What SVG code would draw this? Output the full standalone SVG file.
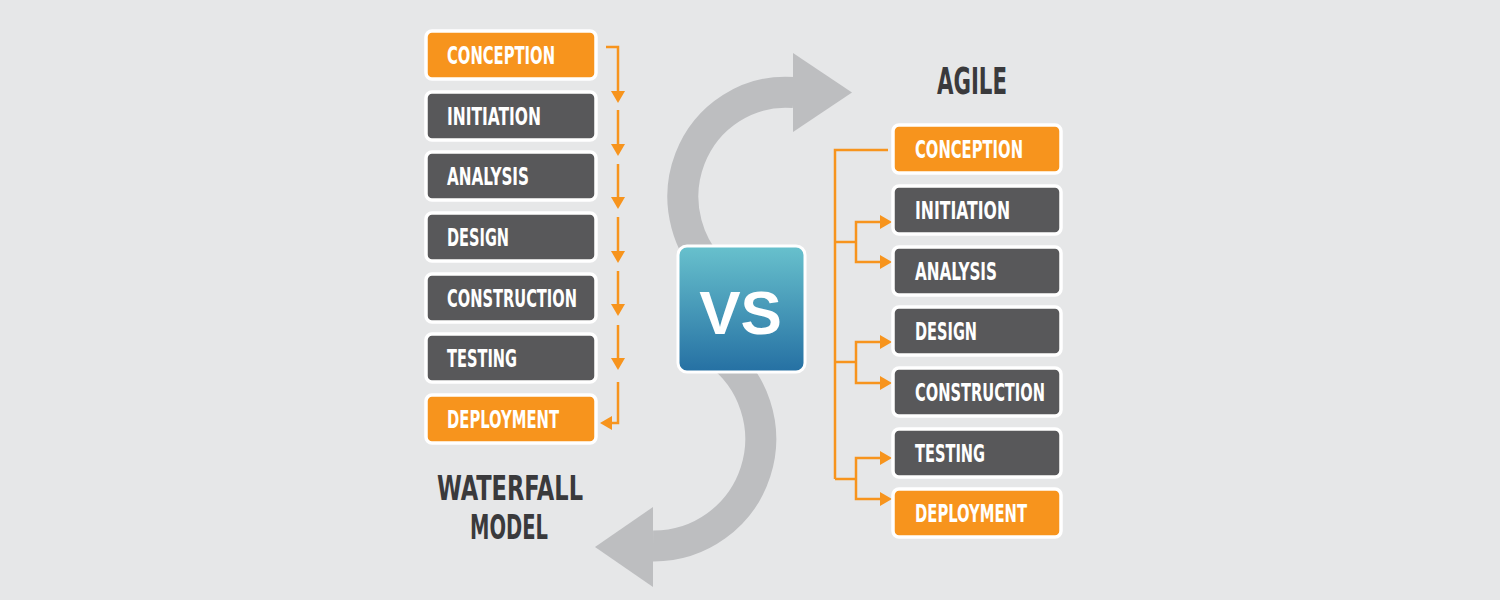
<svg xmlns="http://www.w3.org/2000/svg" width="1500" height="600" viewBox="0 0 1500 600">
  <defs>
    <linearGradient id="vsGrad" x1="0" y1="0" x2="0" y2="1">
      <stop offset="0" stop-color="#68C1CD"/>
      <stop offset="1" stop-color="#2570A3"/>
    </linearGradient>
    <marker id="ah" markerUnits="userSpaceOnUse" markerWidth="12" markerHeight="14" refX="4" refY="7" orient="auto" viewBox="0 0 12 14">
      <path d="M0,0 L12,7 L0,14 Z" fill="#F7941D"/>
    </marker>
  </defs>
  <style>
    .box rect { stroke: #FFFFFF; stroke-width: 3.5; }
    .dark rect { fill: #58585A; }
    .orange rect { fill: #F7941D; }
    .box text { font-family: "Liberation Sans Narrow", "DejaVu Sans Condensed", "Liberation Sans", sans-serif; font-weight: bold; font-size: 24px; fill: #FFFFFF; }
    .title { font-family: "Liberation Sans Narrow", "DejaVu Sans Condensed", "Liberation Sans", sans-serif; font-weight: bold; font-size: 37px; fill: #3A3A3C; }
    .title2 { font-family: "Liberation Sans Narrow", "DejaVu Sans Condensed", "Liberation Sans", sans-serif; font-weight: bold; font-size: 33px; fill: #3A3A3C; }
    .con path { fill: none; stroke: #F7941D; stroke-width: 2.5; }
    .arr { marker-end: url(#ah); }
    .big { fill: none; stroke: #BDBEC0; stroke-width: 31; }
  </style>
  <rect x="0" y="0" width="1500" height="600" fill="#E6E7E8"/>

  <g id="swirl">
    <path class="big" d="M722.2,278.8 A103 104.5 0 0 1 794,92.5"/>
    <polygon points="793,53 852,92.5 793,132" fill="#BDBEC0"/>
    <path class="big" d="M716,352 A107 107 0 0 1 653,546"/>
    <polygon points="653,507 595,547 653,587" fill="#BDBEC0"/>
  </g>

  <g id="connectors" class="con">
    <path class="arr" d="M606,47 H618 V95"/>
    <path class="arr" d="M618,110 V148"/>
    <path class="arr" d="M618,164 V201"/>
    <path class="arr" d="M618,217 V255"/>
    <path class="arr" d="M618,271 V308"/>
    <path class="arr" d="M618,325 V362"/>
    <path class="arr" d="M618,382 V423 H608"/>
    <path d="M888,150 H835 V479"/>
    <path d="M835,242 H856"/>
    <path class="arr" d="M856,242 V222 H884"/>
    <path class="arr" d="M856,242 V262 H884"/>
    <path d="M835,362 H856"/>
    <path class="arr" d="M856,362 V342 H884"/>
    <path class="arr" d="M856,362 V383 H884"/>
    <path d="M835,479 H856"/>
    <path class="arr" d="M856,479 V458 H884"/>
    <path class="arr" d="M856,479 V499 H884"/>
  </g>

  <g id="w-conception" class="box orange"><rect x="426" y="31" width="170" height="48" rx="6"/><text x="447" y="64" textLength="108" lengthAdjust="spacingAndGlyphs">CONCEPTION</text></g>
  <g id="w-initiation" class="box dark"><rect x="426" y="92" width="170" height="48" rx="6"/><text x="447" y="125" textLength="94" lengthAdjust="spacingAndGlyphs">INITIATION</text></g>
  <g id="w-analysis" class="box dark"><rect x="426" y="152" width="170" height="48" rx="6"/><text x="447" y="185" textLength="82" lengthAdjust="spacingAndGlyphs">ANALYSIS</text></g>
  <g id="w-design" class="box dark"><rect x="426" y="213" width="170" height="48" rx="6"/><text x="447" y="246" textLength="62" lengthAdjust="spacingAndGlyphs">DESIGN</text></g>
  <g id="w-construction" class="box dark"><rect x="426" y="274" width="170" height="48" rx="6"/><text x="447" y="307" textLength="130" lengthAdjust="spacingAndGlyphs">CONSTRUCTION</text></g>
  <g id="w-testing" class="box dark"><rect x="426" y="334" width="170" height="48" rx="6"/><text x="447" y="367" textLength="70" lengthAdjust="spacingAndGlyphs">TESTING</text></g>
  <g id="w-deployment" class="box orange"><rect x="426" y="395" width="170" height="48" rx="6"/><text x="447" y="428" textLength="112" lengthAdjust="spacingAndGlyphs">DEPLOYMENT</text></g>

  <g id="waterfall-title">
    <text class="title2" x="510" y="500" text-anchor="middle" textLength="146" lengthAdjust="spacingAndGlyphs">WATERFALL</text>
    <text class="title2" x="509" y="539" text-anchor="middle" textLength="78" lengthAdjust="spacingAndGlyphs">MODEL</text>
  </g>

  <g id="agile-title">
    <text class="title" x="972" y="94" text-anchor="middle" textLength="70" lengthAdjust="spacingAndGlyphs">AGILE</text>
  </g>

  <g id="a-conception" class="box orange"><rect x="893" y="125" width="168" height="48" rx="6"/><text x="915" y="158" textLength="108" lengthAdjust="spacingAndGlyphs">CONCEPTION</text></g>
  <g id="a-initiation" class="box dark"><rect x="893" y="186" width="168" height="48" rx="6"/><text x="915" y="219" textLength="95" lengthAdjust="spacingAndGlyphs">INITIATION</text></g>
  <g id="a-analysis" class="box dark"><rect x="893" y="247" width="168" height="48" rx="6"/><text x="915" y="280" textLength="82" lengthAdjust="spacingAndGlyphs">ANALYSIS</text></g>
  <g id="a-design" class="box dark"><rect x="893" y="307" width="168" height="48" rx="6"/><text x="915" y="340" textLength="62" lengthAdjust="spacingAndGlyphs">DESIGN</text></g>
  <g id="a-construction" class="box dark"><rect x="893" y="368" width="168" height="48" rx="6"/><text x="915" y="401" textLength="130" lengthAdjust="spacingAndGlyphs">CONSTRUCTION</text></g>
  <g id="a-testing" class="box dark"><rect x="893" y="429" width="168" height="48" rx="6"/><text x="915" y="462" textLength="70" lengthAdjust="spacingAndGlyphs">TESTING</text></g>
  <g id="a-deployment" class="box orange"><rect x="893" y="489" width="168" height="48" rx="6"/><text x="915" y="522" textLength="112" lengthAdjust="spacingAndGlyphs">DEPLOYMENT</text></g>

  <g id="vs">
    <rect x="678" y="246" width="127" height="126" rx="9" fill="url(#vsGrad)" stroke="#FFFFFF" stroke-width="3"/>
    <text x="740.5" y="334" text-anchor="middle" font-family="'Liberation Sans', Arial, sans-serif" font-weight="bold" font-size="62" fill="#FFFFFF">VS</text>
  </g>
</svg>
